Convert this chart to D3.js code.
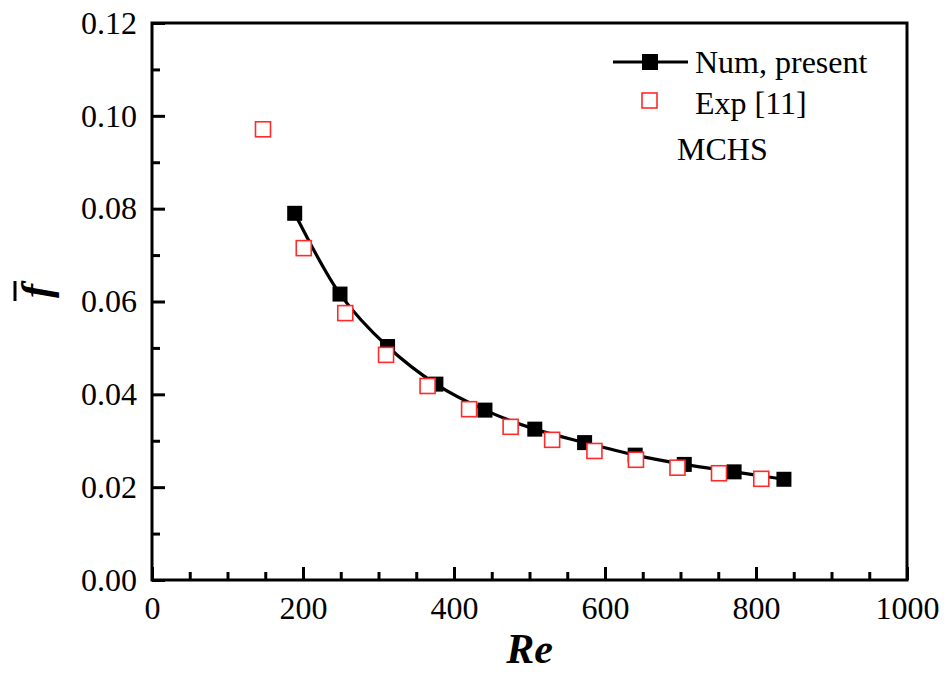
<!DOCTYPE html>
<html>
<head>
<meta charset="utf-8">
<script src="https://cdn.jsdelivr.net/npm/d3@7"></script>
<style>
  body { margin: 0; background: #fff; }
  svg { font-family: 'Liberation Serif', 'Times New Roman', serif; }
  .tick text { font-family: 'Liberation Serif', 'Times New Roman', serif; font-size: 32px; fill: #000; }
  .legend text { font-size: 32px; fill: #000; }
</style>
</head>
<body>
<svg width="948" height="675"></svg>
<script>
// numerical results (present study)
const numRe = [189, 249, 312, 376, 441, 507, 573, 640, 705, 771, 837];
const numF = [0.0790, 0.0616, 0.0503, 0.0422, 0.0366, 0.0325, 0.0296, 0.0269, 0.0249, 0.0233, 0.0217];

// experimental data, ref [11]
const expRe = [147, 201, 256, 310, 365, 420, 475, 530, 586, 641, 696, 751, 807];
const expF = [0.0971, 0.0715, 0.0575, 0.0485, 0.0418, 0.0368, 0.0330, 0.0302, 0.0278, 0.0259, 0.0242, 0.0230, 0.0218];

const xTicks = [0, 200, 400, 600, 800, 1000];
const yTicks = [0.00, 0.02, 0.04, 0.06, 0.08, 0.10, 0.12];
const xMinor = [50, 100, 150, 250, 300, 350, 450, 500, 550, 650, 700, 750, 850, 900, 950];
const yMinor = [0.01, 0.03, 0.05, 0.07, 0.09, 0.11];

const legendLabels = ['Num, present', 'Exp [11]'];
const note = 'MCHS';

const svg = d3.select('svg');
const width = +svg.attr('width');
const height = +svg.attr('height');

const margin = {top: 23, right: 41, bottom: 95, left: 152};
const innerWidth = width - margin.left - margin.right;
const innerHeight = height - margin.top - margin.bottom;

const xScale = d3.scaleLinear().domain([0, 1000]).range([0, innerWidth]);
const yScale = d3.scaleLinear().domain([0, 0.12]).range([innerHeight, 0]);

const g = svg.append('g')
    .attr('transform', `translate(${margin.left}, ${margin.top})`);

// minor ticks first (no labels)
const xMinorG = g.append('g')
    .attr('transform', `translate(0, ${innerHeight})`)
    .call(d3.axisBottom(xScale).tickValues(xMinor).tickSize(-8));
const yMinorG = g.append('g')
    .call(d3.axisLeft(yScale).tickValues(yMinor).tickSize(-8));
[xMinorG, yMinorG].forEach(a => {
    a.select('.domain').remove();
    a.selectAll('.tick text').remove();
});

const xAxisG = g.append('g')
    .attr('transform', `translate(0, ${innerHeight})`)
    .call(d3.axisBottom(xScale).tickValues(xTicks).tickSize(-13).tickPadding(16).tickFormat(d3.format('d')));
const yAxisG = g.append('g')
    .call(d3.axisLeft(yScale).tickValues(yTicks).tickSize(-13).tickPadding(15).tickFormat(d3.format('.2f')));
[xAxisG, yAxisG].forEach(a => a.select('.domain').remove());

g.selectAll('.tick line').attr('stroke', '#000').attr('stroke-width', 3);

// frame
g.append('rect')
    .attr('width', innerWidth)
    .attr('height', innerHeight)
    .attr('fill', 'none')
    .attr('stroke', '#000')
    .attr('stroke-width', 3);

// axis titles
g.append('text')
    .attr('x', innerWidth / 2)
    .attr('y', 640)
    .attr('text-anchor', 'middle')
    .attr('font-size', 42)
    .attr('font-weight', 'bold')
    .attr('font-style', 'italic')
    .text('Re');

const yLab = svg.append('g')
    .attr('transform', `translate(50, 291) rotate(-90)`);
yLab.append('text')
    .attr('text-anchor', 'middle')
    .attr('font-size', 42)
    .attr('font-style', 'italic')
    .attr('font-weight', 'bold')
    .text('f');
yLab.append('line')
    .attr('x1', -10).attr('x2', 10)
    .attr('y1', -35).attr('y2', -35)
    .attr('stroke', '#000')
    .attr('stroke-width', 3);

// numerical curve
const numData = numRe.map((d, i) => ({re: d, f: numF[i]}));
const expData = expRe.map((d, i) => ({re: d, f: expF[i]}));

const lineGen = d3.line()
    .x(d => xScale(d.re))
    .y(d => yScale(d.f))
    .curve(d3.curveCatmullRom);

g.append('path')
    .attr('d', lineGen(numData))
    .attr('fill', 'none')
    .attr('stroke', '#000')
    .attr('stroke-width', 3.2);

const sq = 15;
g.selectAll('.num').data(numData).enter().append('rect')
    .attr('class', 'num')
    .attr('x', d => xScale(d.re) - sq / 2)
    .attr('y', d => yScale(d.f) - sq / 2)
    .attr('width', sq).attr('height', sq)
    .attr('fill', '#000');

g.selectAll('.exp').data(expData).enter().append('rect')
    .attr('class', 'exp')
    .attr('x', d => xScale(d.re) - sq / 2)
    .attr('y', d => yScale(d.f) - sq / 2)
    .attr('width', sq).attr('height', sq)
    .attr('fill', '#fff')
    .attr('stroke', '#ff2a2a')
    .attr('stroke-width', 1.6);

// legend
const legend = svg.append('g').attr('class', 'legend');
legend.append('line')
    .attr('x1', 613).attr('x2', 688)
    .attr('y1', 62).attr('y2', 62)
    .attr('stroke', '#000').attr('stroke-width', 3);
legend.append('rect')
    .attr('x', 642).attr('y', 54)
    .attr('width', 16).attr('height', 16)
    .attr('fill', '#000');
legend.append('text').attr('x', 695).attr('y', 73).text(legendLabels[0]);

legend.append('rect')
    .attr('x', 642).attr('y', 93)
    .attr('width', 15).attr('height', 15)
    .attr('fill', '#fff')
    .attr('stroke', '#ff2a2a').attr('stroke-width', 1.6);
legend.append('text').attr('x', 695).attr('y', 114).text(legendLabels[1]);

legend.append('text').attr('x', 677).attr('y', 160).text(note);
</script>
</body>
</html>
